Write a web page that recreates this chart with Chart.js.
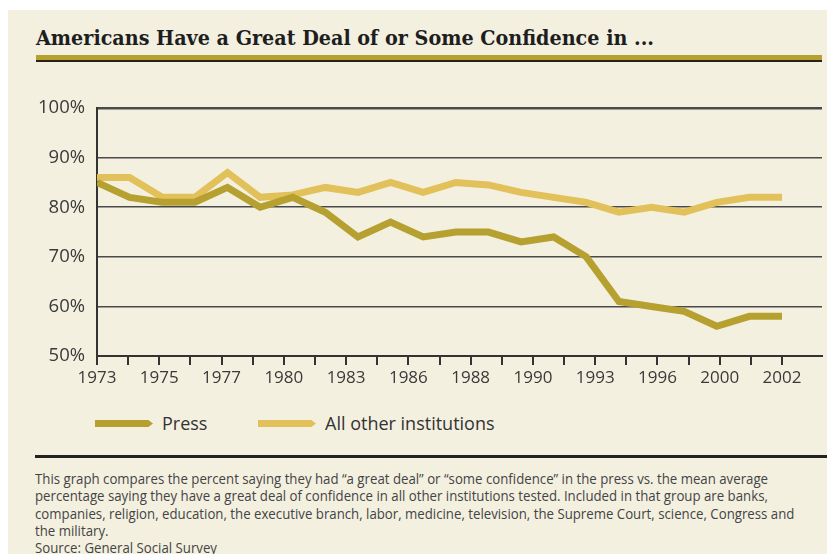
<!DOCTYPE html>
<html>
<head>
<meta charset="utf-8">
<script src="https://cdn.jsdelivr.net/npm/chart.js@4/dist/chart.umd.min.js"></script>
<style>
    html, body {
        margin: 0;
        padding: 0;
        background: #ffffff;
    }
    #panel {
        position: absolute;
        left: 8px;
        top: 10px;
        width: 819px;
        height: 544px;
        background: #f3f0e0;
    }
    #title {
        position: absolute;
        left: 36px;
        top: 25px;
        font-family: "DejaVu Serif", serif;
        font-weight: bold;
        font-size: 21px;
        color: #1e1e1e;
        white-space: nowrap;
        transform-origin: left center;
    }
    #title-bar {
        position: absolute;
        left: 36px;
        top: 55px;
        width: 786px;
        height: 5px;
        background: #b5a030;
        border-bottom: 2px solid #26241a;
    }
    #chart-box {
        position: absolute;
        left: 0;
        top: 85px;
        width: 827px;
        height: 315px;
    }
    .legend-item {
        position: absolute;
        top: 410px;
        height: 26px;
        font-family: "Open Sans", sans-serif;
        font-size: 18px;
        line-height: 26px;
        color: #333333;
        white-space: nowrap;
    }
    .swatch {
        position: absolute;
        top: 10px;
        width: 58px;
        height: 7px;
        clip-path: polygon(0 0, 92% 0, 100% 50%, 92% 100%, 0 100%);
    }
    #footer-rule {
        position: absolute;
        left: 35px;
        top: 455px;
        width: 792px;
        height: 3px;
        background: #222222;
    }
    #note {
        position: absolute;
        left: 35px;
        top: 470px;
        font-family: "Open Sans", sans-serif;
        font-size: 14px;
        line-height: 17.3px;
        color: #444444;
        white-space: nowrap;
        transform: scaleX(0.945);
        transform-origin: left top;
    }
</style>
</head>
<body>
<div id="panel"></div>
<div id="title">Americans Have a Great Deal of or Some Confidence in ...</div>
<div id="title-bar"></div>
<div id="chart-box"><canvas id="confidence-chart"></canvas></div>

<div class="legend-item" style="left:95px;">
    <span class="swatch" style="left:0; background:#b5a030;"></span>
    <span style="position:absolute; left:67px;">Press</span>
</div>
<div class="legend-item" style="left:258px;">
    <span class="swatch" style="left:0; background:#e2c05a;"></span>
    <span style="position:absolute; left:67px;">All other institutions</span>
</div>

<div id="footer-rule"></div>
<div id="note">
    This graph compares the percent saying they had “a great deal” or “some confidence” in the press vs. the mean average<br>
    percentage saying they have a great deal of confidence in all other institutions tested. Included in that group are banks,<br>
    companies, religion, education, the executive branch, labor, medicine, television, the Supreme Court, science, Congress and<br>
    the military.<br>
    Source: General Social Survey
</div>

<script>
// 조사 연도 (GSS)
const surveyYears = [1973, 1974, 1975, 1976, 1977, 1978, 1980, 1982, 1983, 1984, 1986,
                     1987, 1988, 1989, 1990, 1991, 1993, 1994, 1996, 1998, 2000, 2002];

// 신뢰도 (%)
const pressValues = [85, 82, 81, 81, 84, 80, 82, 79, 74, 77, 74,
                     75, 75, 73, 74, 70, 61, 60, 59, 56, 58, 58];
const otherValues = [86, 86, 82, 82, 87, 82, 82.5, 84, 83, 85, 83,
                     85, 84.5, 83, 82, 81, 79, 80, 79, 81, 82, 82];

// x축 눈금 라벨 (빈 칸은 눈금만 표시)
const xTickLabels = ['1973', '', '1975', '', '1977', '', '1980', '', '1983', '', '1986', '',
                     '1988', '', '1990', '', '1993', '', '1996', '', '2000', '', '2002'];

// y축 눈금
const yTicks = [50, 60, 70, 80, 90, 100];

const lastIndex = surveyYears.length - 1;
const tickStep = lastIndex / (xTickLabels.length - 1);

// 제목 폭 맞춤
const titleEl = document.getElementById('title');
titleEl.style.transform = 'scaleX(' + (618 / titleEl.getBoundingClientRect().width) + ')';

function toPoints(values) {
    return values.map((v, i) => ({ x: i, y: v }));
}

const ctx = document.getElementById('confidence-chart');

new Chart(ctx, {
    type: 'line',
    data: {
        datasets: [{
            label: 'Press',
            data: toPoints(pressValues),
            borderColor: '#b5a030',
            borderWidth: 7,
            pointRadius: 0,
            tension: 0
        }, {
            label: 'All other institutions',
            data: toPoints(otherValues),
            borderColor: '#e2c05a',
            borderWidth: 7,
            pointRadius: 0,
            tension: 0
        }]
    },
    options: {
        responsive: true,
        maintainAspectRatio: false,
        animation: false,
        layout: {
            padding: { top: 0, right: 5, left: 0, bottom: 0 }
        },
        plugins: {
            legend: { display: false },
            tooltip: { enabled: false }
        },
        scales: {
            x: {
                type: 'linear',
                min: 0,
                max: lastIndex * 725 / 685,
                afterBuildTicks: function(axis) {
                    axis.ticks = xTickLabels.map((_, k) => ({ value: k * tickStep }));
                },
                afterFit: function(axis) {
                    axis.height = 44;
                },
                grid: {
                    drawOnChartArea: false,
                    drawTicks: true,
                    tickLength: 9,
                    color: '#333333',
                    lineWidth: 2
                },
                border: {
                    display: true,
                    color: '#333333',
                    width: 2
                },
                ticks: {
                    autoSkip: false,
                    maxRotation: 0,
                    padding: 3,
                    color: '#3a3a3a',
                    font: { family: '"Open Sans", sans-serif', size: 17 },
                    callback: function(value, index) {
                        return xTickLabels[index];
                    }
                }
            },
            y: {
                min: yTicks[0],
                max: yTicks[yTicks.length - 1],
                afterBuildTicks: function(axis) {
                    axis.ticks = yTicks.map(v => ({ value: v }));
                },
                afterFit: function(axis) {
                    axis.width = 97;
                },
                grid: {
                    drawTicks: false,
                    color: '#4a4a4a',
                    lineWidth: c => (c.tick && c.tick.value === 100 ? 2.5 : 1.6)
                },
                border: {
                    display: true,
                    color: '#333333',
                    width: 2
                },
                ticks: {
                    padding: 12,
                    color: '#3a3a3a',
                    font: { family: '"Open Sans", sans-serif', size: 18.5 },
                    callback: v => v + '%'
                }
            }
        }
    }
});
</script>
</body>
</html>
